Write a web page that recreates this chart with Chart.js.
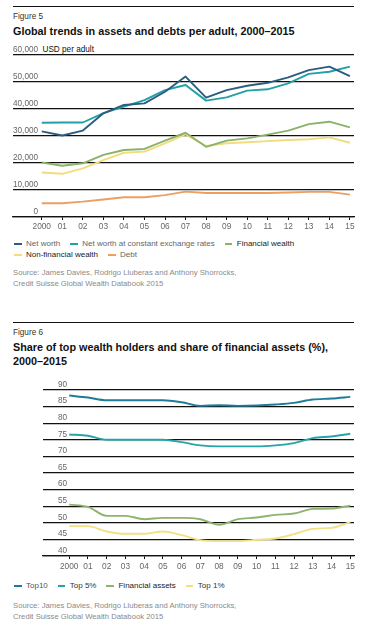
<!DOCTYPE html>
<html><head><meta charset="utf-8">
<script src="https://cdn.jsdelivr.net/npm/chart.js@4.4.1/dist/chart.umd.min.js"></script>
<style>
html,body{margin:0;padding:0;background:#fff;width:366px;height:628px;overflow:hidden;font-family:"Liberation Sans",Arial,Helvetica,sans-serif;}
.rule{position:absolute;left:13px;width:341px;height:1px;background:#111;}
.fig{position:absolute;left:13px;font-size:8.2px;line-height:10px;color:#333;white-space:nowrap;}
.title{position:absolute;left:13px;font-size:10.8px;font-weight:bold;color:#111;line-height:14.3px;white-space:nowrap;}
.unit{position:absolute;left:42.5px;font-size:8.2px;line-height:10px;color:#111;white-space:nowrap;}
.legend{position:absolute;left:14px;font-size:8px;line-height:10.7px;white-space:nowrap;}
.lrow{display:flex;align-items:center;height:10.7px;}
.litem{display:flex;align-items:center;margin-right:10px;}
.lmark{width:7.5px;height:2px;margin-right:4.5px;}
.source{position:absolute;left:13px;font-size:7.7px;line-height:11px;color:#8a8a8a;white-space:nowrap;}
canvas{position:absolute;left:0;}
</style>
</head><body>

<div class="rule" style="top:6px"></div>
<div class="fig" style="top:11.7px">Figure 5</div>
<div class="title" style="top:23.5px">Global trends in assets and debts per adult, 2000–2015</div>
<div class="unit" style="top:44.5px">USD per adult</div>
<canvas id="c1" width="366" height="195" style="top:40px;width:366px;height:195px"></canvas>
<div class="legend" id="leg1" style="top:239px"></div>
<div class="source" style="top:266.8px">Source: James Davies, Rodrigo Lluberas and Anthony Shorrocks,<br>Credit Suisse Global Wealth Databook 2015</div>

<div class="rule" style="top:322px"></div>
<div class="fig" style="top:328.3px">Figure 6</div>
<div class="title" style="top:339.5px">Share of top wealth holders and share of financial assets (%),<br>2000–2015</div>
<canvas id="c2" width="366" height="206" style="top:370px;width:366px;height:206px"></canvas>
<div class="legend" id="leg2" style="top:581px"></div>
<div class="source" style="top:600.2px">Source: James Davies, Rodrigo Lluberas and Anthony Shorrocks,<br>Credit Suisse Global Wealth Databook 2015</div>

<script>
// ---- Data ----
const years = ['2000','01','02','03','04','05','06','07','08','09','10','11','12','13','14','15'];

// Figure 5 (USD per adult)
const netWorth      = [31700, 30200, 32000, 38400, 41500, 42100, 46400, 52000, 44200, 47000, 48600, 49700, 51700, 54400, 55700, 52200];
const netWorthConst = [34900, 35000, 35000, 38500, 40900, 43300, 47000, 48900, 43100, 44300, 46800, 47300, 49500, 53000, 53800, 55700];
const financialWealth    = [20200, 19000, 19900, 23000, 24800, 25200, 28300, 31200, 26000, 28300, 29100, 30500, 32000, 34400, 35300, 33200];
const nonFinancialWealth = [16500, 16000, 18000, 21100, 23800, 24200, 27300, 30600, 26300, 27300, 27700, 28100, 28500, 28800, 29500, 27500];
const debt          = [5100, 5100, 5700, 6500, 7300, 7300, 8100, 9400, 8900, 8900, 8900, 8900, 9100, 9300, 9300, 8300];

// Figure 6 (%)
const top10           = [88.3, 87.7, 86.9, 86.9, 86.9, 86.9, 86.3, 85.2, 85.4, 85.2, 85.3, 85.6, 86.1, 87.1, 87.4, 87.9];
const top5            = [76.6, 76.2, 75.0, 75.0, 75.0, 75.0, 74.3, 73.3, 73.0, 73.0, 73.0, 73.3, 74.0, 75.5, 76.0, 76.8];
const financialAssets = [55.5, 54.8, 52.1, 52.1, 51.1, 51.5, 51.5, 51.1, 49.4, 51.1, 51.6, 52.4, 52.8, 54.2, 54.3, 55.2];
const top1            = [49.0, 49.0, 47.4, 46.7, 46.7, 47.4, 46.3, 44.8, 44.5, 44.5, 44.9, 45.3, 46.6, 48.2, 48.5, 50.2];

const series1 = [
  {name:'Net worth', data:netWorth, color:'#2b5d7e', text:'#666'},
  {name:'Net worth at constant exchange rates', data:netWorthConst, color:'#22a0a8', text:'#666'},
  {name:'Financial wealth', data:financialWealth, color:'#8cb26a', text:'#222'},
  {name:'Non-financial wealth', data:nonFinancialWealth, color:'#f2dc7e', text:'#222'},
  {name:'Debt', data:debt, color:'#eba062', text:'#666'}
];
const series2 = [
  {name:'Top10', data:top10, color:'#1f7b9a', text:'#555'},
  {name:'Top 5%', data:top5, color:'#25a5a8', text:'#333'},
  {name:'Financial assets', data:financialAssets, color:'#8fb36e', text:'#222'},
  {name:'Top 1%', data:top1, color:'#f2e084', text:'#333'}
];

function buildLegend(el, series, rows){
  const root = document.getElementById(el);
  rows.forEach(r => {
    const row = document.createElement('div'); row.className='lrow';
    r.forEach(i => {
      const s = series[i];
      const it = document.createElement('div'); it.className='litem';
      const m = document.createElement('span'); m.className='lmark'; m.style.background=s.color;
      const t = document.createElement('span'); t.textContent=s.name; t.style.color=s.text;
      it.appendChild(m); it.appendChild(t); row.appendChild(it);
    });
    root.appendChild(row);
  });
}
buildLegend('leg1', series1, [[0,1,2],[3,4]]);
buildLegend('leg2', series2, [[0,1,2,3]]);

function makeChart(id, series, yMin, yMax, yStep, yPad, padTop, smooth, xPad){
  return new Chart(document.getElementById(id), {
    type:'line',
    data:{datasets: series.map(s => ({
      label:s.name,
      data:s.data.map((v,i)=>({x:i,y:v})),
      borderColor:s.color, backgroundColor:s.color,
      borderWidth:1.9, pointRadius:0, fill:false,
      cubicInterpolationMode: smooth ? 'monotone' : 'default',
      tension:0, borderJoinStyle:'round'
    }))},
    options:{
      responsive:false, animation:false, devicePixelRatio:1,
      layout:{padding:{top:padTop, left:13, right:12, bottom:0}},
      plugins:{legend:{display:false}, tooltip:{enabled:false}},
      scales:{
        x:{type:'linear', min:-1.4, max:15.2,
          afterBuildTicks:(sc)=>{ sc.ticks = years.map((_,i)=>({value:i})); },
          afterFit:(sc)=>{ sc.height = 18; },
          ticks:{callback:(v)=>years[v], color:'#666', padding:xPad, maxRotation:0, autoSkip:false,
                 font:{family:'"Liberation Sans", Arial, sans-serif', size:8.3}},
          grid:{drawOnChartArea:false, drawTicks:true, tickLength:3, color:'#111', lineWidth:1},
          border:{display:true, color:'#111', width:1.3}
        },
        y:{min:yMin, max:yMax,
          ticks:{stepSize:yStep, mirror:true, crossAlign:'far', padding:yPad, labelOffset:-5.5,
                 color:'#666', callback:(v)=>v.toLocaleString('en-US'),
                 font:{family:'"Liberation Sans", Arial, sans-serif', size:8.2}},
          grid:{color:'#111', lineWidth:1.3, drawTicks:false},
          border:{display:false}
        }
      }
    }
  });
}
makeChart('c1', series1, 0, 60000, 10000, 0, 15, false, 2);
makeChart('c2', series2, 40, 90, 5, 15, 16, true, 3);
</script>
</body></html>
